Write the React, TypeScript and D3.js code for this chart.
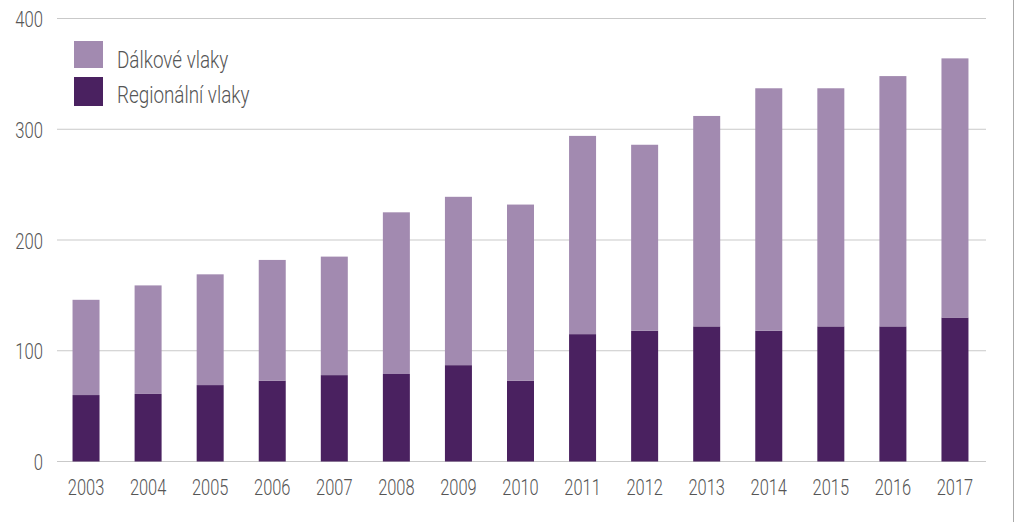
import React from "react";
import * as d3 from "d3";

const years = ["2003","2004","2005","2006","2007","2008","2009","2010","2011","2012","2013","2014","2015","2016","2017"];
const regional = [60, 61, 69, 73, 78, 79, 87, 73, 115, 118, 122, 118, 122, 122, 130];
const total = [146, 159, 169, 182, 185, 225, 239, 232, 294, 286, 312, 337, 337, 348, 364];
const longDistance = total.map((t, i) => t - regional[i]);
const yTicks = [0, 100, 200, 300, 400];
const seriesNames = ["Dálkové vlaky", "Regionální vlaky"];

const W = 1015, H = 522;
const FONT = "Roboto, 'DejaVu Sans Condensed', sans-serif";
const LIGHT = "#a28ab0";
const DARK = "#4a2160";
const TEXT = "#555555";
const GRID = "#c9c9c9";

function Txt({ x, y, anchor, size, sx, children }: { x: number; y: number; anchor: string; size: number; sx: number; children: any }) {
  return (
    <text transform={`translate(${x},${y}) scale(${sx},1)`} textAnchor={anchor} fontSize={size} fontWeight={300} fill={TEXT}>
      {children}
    </text>
  );
}

export default function App() {
  const x = d3.scaleBand<string>().domain(years).range([55, 986]).paddingInner(0.565).paddingOuter(0.2825);
  const y = d3.scaleLinear().domain([0, 400]).range([461.5, 18.5]);
  const stackData = years.map((yr, i) => ({ year: yr, regional: regional[i], longDistance: longDistance[i] }));
  const stack = d3.stack<any>().keys(["regional", "longDistance"])(stackData);
  const colors: Record<string, string> = { regional: DARK, longDistance: LIGHT };

  return (
    <svg width={W} height={H} style={{ position: "absolute", left: 0, top: 0, background: "#fff" }} fontFamily={FONT}>
      <rect x={0} y={0} width={W} height={H} fill="#fff" />
      {yTicks.map((t) => (
        <g key={t}>
          <line x1={57} x2={986} y1={y(t)} y2={y(t)} stroke={GRID} strokeWidth={1} />
          <Txt x={43} y={y(t) + 8.5} anchor="end" size={22.5} sx={0.74}>{t}</Txt>
        </g>
      ))}
      {stack.map((s) => (
        <g key={s.key} fill={colors[s.key]}>
          {s.map((d, i) => (
            <rect key={i} x={x(years[i])} width={x.bandwidth()} y={y(d[1])} height={y(d[0]) - y(d[1])} />
          ))}
        </g>
      ))}
      {years.map((yr) => (
        <Txt key={yr} x={(x(yr) as number) + x.bandwidth() / 2} y={495} anchor="middle" size={22.5} sx={0.73}>{yr}</Txt>
      ))}
      <g>
        <rect x={74} y={41} width={29} height={27} fill={LIGHT} />
        <Txt x={117} y={68} anchor="start" size={23} sx={0.82}>{seriesNames[0]}</Txt>
        <rect x={74} y={77} width={29} height={29} fill={DARK} />
        <Txt x={117} y={103} anchor="start" size={23} sx={0.82}>{seriesNames[1]}</Txt>
      </g>
      <line x1={1013.5} x2={1013.5} y1={0} y2={H} stroke="#aaaaaa" strokeWidth={1} />
    </svg>
  );
}
